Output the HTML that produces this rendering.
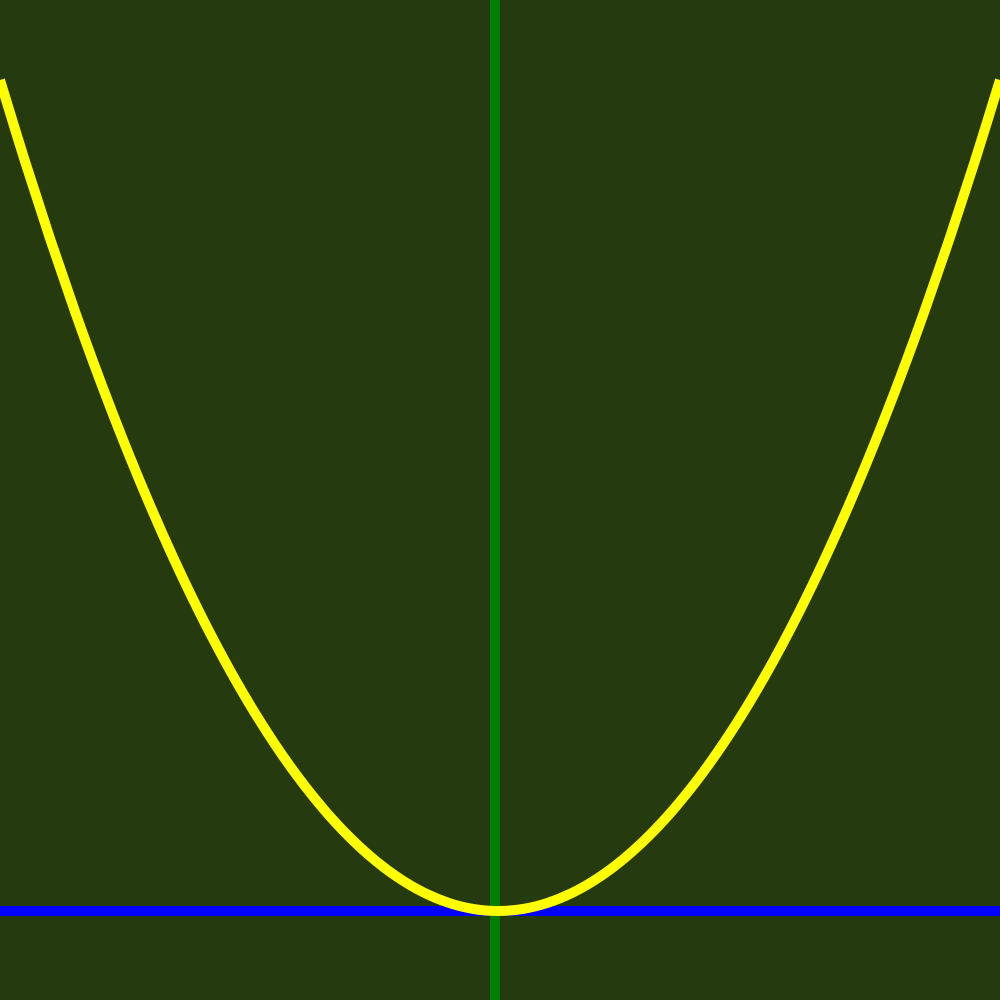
<!DOCTYPE html>
<html><head><meta charset="utf-8"><style>
html,body{margin:0;padding:0;background:#263a10;}
svg{display:block}
</style></head><body>
<svg id="chart" width="1000" height="1000" viewBox="0 0 1000 1000">
<rect x="0" y="0" width="1000" height="1000" fill="#263a10"/>
<g id="marks"></g>
</svg>
<script>
const xValues = [-10,-9.5,-9,-8.5,-8,-7.5,-7,-6.5,-6,-5.5,-5,-4.5,-4,-3.5,-3,-2.5,-2,-1.5,-1,-0.5,0,0.5,1,1.5,2,2.5,3,3.5,4,4.5,5,5.5,6,6.5,7,7.5,8,8.5,9,9.5,10];
const yValues = [100,90.25,81,72.25,64,56.25,49,42.25,36,30.25,25,20.25,16,12.25,9,6.25,4,2.25,1,0.25,0,0.25,1,2.25,4,6.25,9,12.25,16,20.25,25,30.25,36,42.25,49,56.25,64,72.25,81,90.25,100];
const xDomain = [-10, 10];
const yDomain = [0, 100];
function sx(x){ return 498 + x * (x < 0 ? 49.8 : 50.2); }
function sy(y){ return 911 - (y - yDomain[0]) * (911 - 80) / (yDomain[1] - yDomain[0]); }
const ns = 'http://www.w3.org/2000/svg';
const g = document.getElementById('marks');
const vline = document.createElementNS(ns,'line');


vline.setAttribute('x1', sx(0) - 3); vline.setAttribute('x2', sx(0) - 3);
vline.setAttribute('y1', 0); vline.setAttribute('y2', 1000);
vline.setAttribute('stroke', '#008000'); vline.setAttribute('stroke-width', 10);
g.appendChild(vline);
const hline = document.createElementNS(ns,'line');


hline.setAttribute('x1', 0); hline.setAttribute('x2', 1000);
hline.setAttribute('y1', sy(0)); hline.setAttribute('y2', sy(0));
hline.setAttribute('stroke', '#0000ff'); hline.setAttribute('stroke-width', 10);
g.appendChild(hline);
const pts = xValues.map((x,i)=>[sx(x), sy(yValues[i])]);
let d = 'M' + pts[0][0] + ',' + pts[0][1];
for (let i=0;i<pts.length-1;i++){
  const p0 = pts[i-1]||pts[i], p1=pts[i], p2=pts[i+1], p3=pts[i+2]||p2;
  const c1=[p1[0]+(p2[0]-p0[0])/6, p1[1]+(p2[1]-p0[1])/6];
  const c2=[p2[0]-(p3[0]-p1[0])/6, p2[1]-(p3[1]-p1[1])/6];
  d += ' C'+c1[0]+','+c1[1]+' '+c2[0]+','+c2[1]+' '+p2[0]+','+p2[1];
}
const curve = document.createElementNS(ns,'path');


curve.setAttribute('d', d);
curve.setAttribute('fill', 'none');
curve.setAttribute('stroke', '#ffff00');
curve.setAttribute('stroke-width', 10);
g.appendChild(curve);
</script>
</body></html>
